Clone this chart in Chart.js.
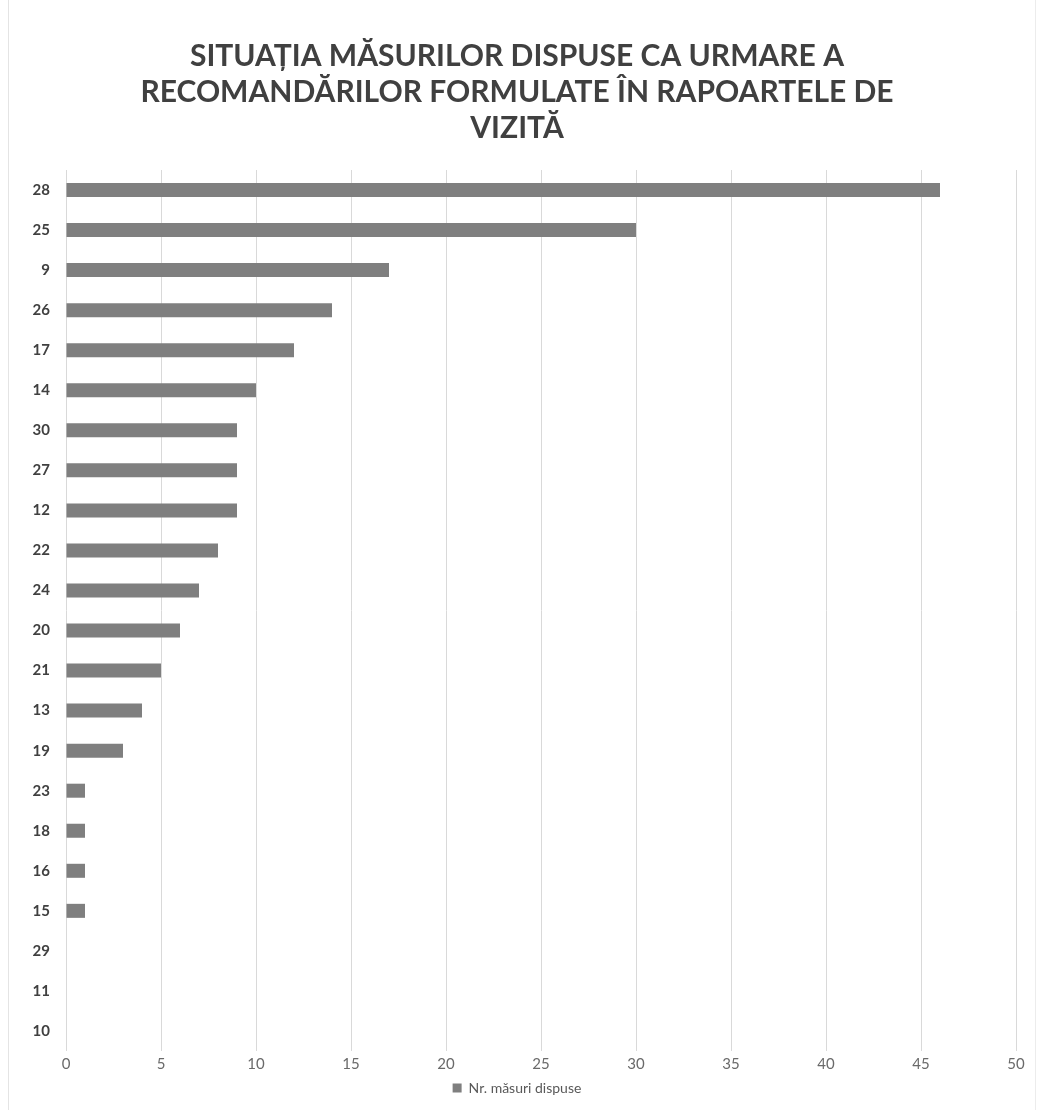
<!DOCTYPE html>
<html>
<head>
<meta charset="utf-8">
<script src="https://cdn.jsdelivr.net/npm/chart.js@4"></script>
<style>
    html, body { margin: 0; padding: 0; background: #fff; }
    #wrap { position: absolute; left: 8px; top: 0; width: 1026px; height: 1110px;
            border-left: 1px solid #e4e4e4; border-right: 1px solid #ececec; }
    canvas { display: block; }
</style>
</head>
<body>
<div id="wrap"><canvas id="chart" width="1026" height="1110"></canvas></div>
<script>
// Date
const categories = ['28', '25', '9', '26', '17', '14', '30', '27', '12', '22', '24', '20', '21', '13', '19', '23', '18', '16', '15', '29', '11', '10'];
const masuriDispuse = [46, 30, 17, 14, 12, 10, 9, 9, 9, 8, 7, 6, 5, 4, 3, 1, 1, 1, 1, 0, 0, 0];
const titleLines = [
    'SITUAȚIA MĂSURILOR DISPUSE CA URMARE A',
    'RECOMANDĂRILOR FORMULATE ÎN RAPOARTELE DE',
    'VIZITĂ'
];
const xTicks = [0, 5, 10, 15, 20, 25, 30, 35, 40, 45, 50];

function initializeChart() {
    Chart.defaults.font.family = 'Lato, "Open Sans", sans-serif';
    Chart.defaults.animation = false;

    new Chart(document.getElementById('chart').getContext('2d'), {
        type: 'bar',
        data: {
            labels: categories,
            datasets: [{
                label: 'Nr. măsuri dispuse',
                data: masuriDispuse,
                backgroundColor: '#7f7f7f',
                barPercentage: 0.7,
                categoryPercentage: 0.5
            }]
        },
        options: {
            indexAxis: 'y',
            responsive: false,
            layout: { padding: { left: 9, right: 19, top: 38, bottom: 5 } },
            plugins: {
                title: {
                    display: true,
                    text: titleLines,
                    color: '#404040',
                    font: { size: 30, weight: 'bold' },
                    lineHeight: 1.2,
                    padding: { top: 0, bottom: 24 }
                },
                legend: {
                    position: 'bottom',
                    labels: {
                        color: '#595959',
                        boxWidth: 9,
                        boxHeight: 9,
                        font: { size: 14 },
                        padding: 4
                    }
                },
                tooltip: { enabled: false }
            },
            scales: {
                x: {
                    min: 0,
                    max: 50,
                    afterBuildTicks: axis => { axis.ticks = xTicks.map(v => ({ value: v })); },
                    grid: { color: '#d9d9d9', drawTicks: false },
                    border: { display: false },
                    ticks: { color: '#6a6a6a', font: { size: 15 }, padding: 4 }
                },
                y: {
                    afterFit: axis => { axis.width = 48; },
                    grid: { display: false, drawTicks: false },
                    border: { display: false },
                    ticks: { color: '#404040', font: { size: 15, weight: 'bold' }, padding: 16 }
                }
            }
        }
    });
}

document.addEventListener('DOMContentLoaded', initializeChart);
</script>
</body>
</html>
